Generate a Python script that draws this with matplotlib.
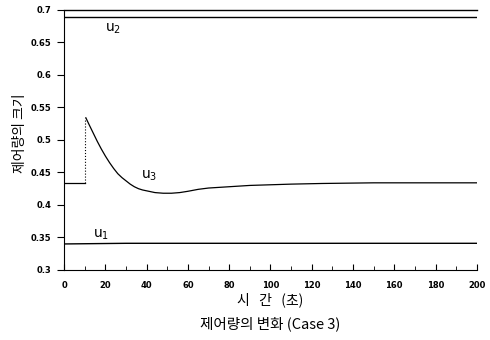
import matplotlib
matplotlib.use('Agg')
import matplotlib.pyplot as plt
from matplotlib.ticker import MultipleLocator

plt.rcParams['font.family'] = ['Noto Sans CJK KR', 'DejaVu Sans']

# u1, u2: nearly constant
u1_t = [0, 30, 200]
u1_v = [0.340, 0.341, 0.341]
u2_t = [0, 200]
u2_v = [0.689, 0.689]

# u3: step at t=10 then decay
u3_pre_t = [0, 10]
u3_pre_v = [0.434, 0.434]
u3_jump_t = [10, 10]
u3_jump_v = [0.434, 0.534]
u3_t = [10.5, 12, 14, 16, 18, 20, 22, 24, 26, 28, 30, 32, 34, 36, 38, 41, 44,
        48, 52, 56, 60, 65, 70, 80, 90, 100, 110, 125, 150, 200]
u3_v = [0.534, 0.524, 0.511, 0.498, 0.486, 0.475, 0.465, 0.456, 0.448, 0.442,
        0.437, 0.432, 0.428, 0.425, 0.423, 0.421, 0.419, 0.418, 0.418, 0.419,
        0.421, 0.424, 0.426, 0.428, 0.430, 0.431, 0.432, 0.433, 0.434, 0.434]

x_ticks = [0, 20, 40, 60, 80, 100, 120, 140, 160, 180, 200]
y_ticks = [0.3, 0.35, 0.4, 0.45, 0.5, 0.55, 0.6, 0.65, 0.7]

fig = plt.figure(figsize=(4.9, 3.4), dpi=100)
ax = fig.add_axes([0.131, 0.206, 0.842, 0.765])

ax.plot(u2_t, u2_v, color='black', lw=1.0)
ax.plot(u1_t, u1_v, color='black', lw=1.0)
ax.plot(u3_pre_t, u3_pre_v, color='black', lw=0.9)
ax.plot(u3_jump_t, u3_jump_v, color='black', lw=0.8, ls=':')
ax.plot(u3_t, u3_v, color='black', lw=0.9)

ax.text(20, 0.667, 'u$_{\\mathregular{2}}$', fontsize=10, family='DejaVu Sans')
ax.text(37, 0.440, 'u$_{\\mathregular{3}}$', fontsize=10, family='DejaVu Sans')
ax.text(14, 0.350, 'u$_{\\mathregular{1}}$', fontsize=10, family='DejaVu Sans')

ax.set_xlim(0, 200)
ax.set_ylim(0.3, 0.7)
ax.set_xticks(x_ticks)
ax.xaxis.set_minor_locator(MultipleLocator(10))
ax.set_yticks(y_ticks)
ax.set_yticklabels([f'{v:g}' for v in y_ticks])
ax.tick_params(axis='x', direction='in', length=4, labelsize=6, pad=8)
ax.tick_params(axis='x', which='minor', direction='in', length=3)
ax.tick_params(axis='y', direction='out', length=5, labelsize=6, pad=4)
for lab in ax.get_xticklabels() + ax.get_yticklabels():
    lab.set_fontweight('bold')
    lab.set_family('DejaVu Sans')

ax.spines['right'].set_visible(False)
ax.spines['left'].set_linestyle((0, (2, 1)))
ax.spines['left'].set_linewidth(0.8)
ax.spines['top'].set_linewidth(1.0)

fig.text(0.041, 0.609, '제어량의 크기', rotation=90, ha='center', va='center',
         fontsize=10)
ax.set_xlabel('시   간   (초)', fontsize=10, labelpad=2)
fig.text(0.551, 0.035, '제어량의 변화 (Case 3)', ha='center', fontsize=10.5)

fig.savefig('out.png', dpi=100)
